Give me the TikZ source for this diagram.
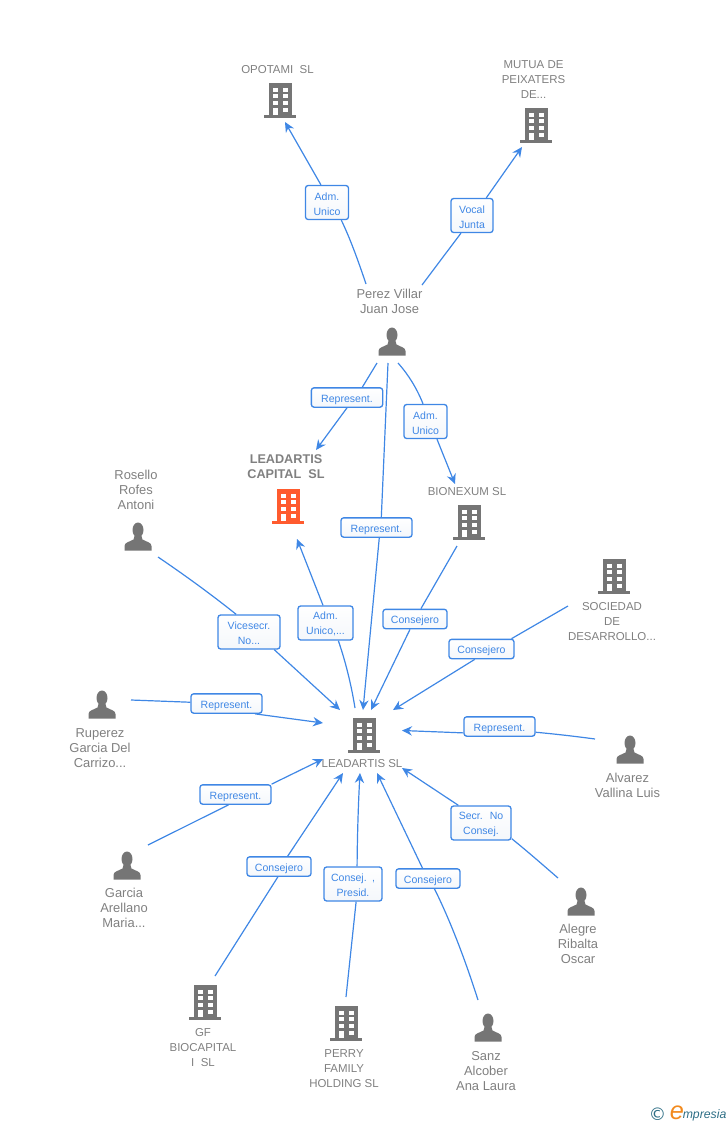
\documentclass[tikz,border=0pt]{standalone}
\usepackage{fontspec}
\setmainfont{Liberation Sans}
\newfontfamily\logofont{DejaVu Sans}
\usetikzlibrary{arrows.meta}
\definecolor{linkblue}{HTML}{3F87E5}
\definecolor{icongray}{HTML}{757575}
\definecolor{textgray}{HTML}{808080}
\definecolor{leadred}{HTML}{FF5B2E}
\definecolor{logoteal}{HTML}{2F6F86}
\definecolor{logoorange}{HTML}{F28A1E}
\definecolor{boxshade}{HTML}{F4F7FB}
\tikzset{
  x=0.75pt,y=-0.75pt,
  conn/.style={draw=linkblue,line width=0.9pt},
  arr/.style={conn,-{Stealth[length=7.5pt,width=7pt,inset=2.5pt]}},
  lab/.style={draw=linkblue,line width=1pt,rounded corners=2pt,top color=white,bottom color=boxshade,
    text=linkblue,font=\fontsize{7.9pt}{11.25pt}\selectfont,align=center,inner sep=0pt,text width=#1,
    minimum height=25.5pt,execute at begin node={\rule{0pt}{7.7pt}}},
  labone/.style={lab=#1,minimum height=14.5pt,execute at begin node={\rule{0pt}{8.5pt}}},
  ent/.style={text=textgray,font=\fontsize{8.6pt}{11.25pt}\selectfont,align=center,inner sep=0pt},
  pers/.style={ent,font=\fontsize{9.7pt}{11.25pt}\selectfont},
  building/.pic={
    \fill[pic actions] (-11.5,-17) rectangle (11.5,15);
    \fill[pic actions] (-16,15) rectangle (16,18);
    \foreach \yy in {-12.5,-5.7,1} {
      \fill[white] (-7.5,\yy) rectangle (-2.5,\yy+4);
      \fill[white] (2.5,\yy) rectangle (7.5,\yy+4);
    }
    \fill[white] (-7.5,8) rectangle (-2.5,15);
    \fill[white] (2.5,7.7) rectangle (7.5,11.7);
  },
  person/.pic={
    \fill[pic actions] (0,-7) ellipse (5.5 and 7.5);
    \fill[pic actions] (-13.5,13.5) -- (-13.5,9) .. controls (-13.5,5.5) and (-9,5) .. (-4.5,2.5)
      -- (-3.5,-1) -- (3.5,-1) -- (4.5,2.5) .. controls (9,5) and (13.5,5.5) .. (13.5,9)
      -- (13.5,13.5) -- cycle;
  }
}
\begin{document}
\begin{tikzpicture}
\useasboundingbox (0,0) rectangle (728,1125);

% icons
\pic[fill=icongray] (iOpotami) at (280,100) {building};
\pic[fill=icongray] (iMutua) at (536,125) {building};
\pic[fill=icongray] (iBionexum) at (469,522) {building};
\pic[fill=icongray] (iSociedad) at (614,576) {building};
\pic[fill=icongray] (iLeadartis) at (364,735) {building};
\pic[fill=leadred] (iCapital) at (288,506) {building};
\pic[fill=icongray] (iGf) at (205,1002) {building};
\pic[fill=icongray] (iPerry) at (346,1023) {building};
\pic[fill=icongray] (iPerez) at (392,342) {person};
\pic[fill=icongray] (iRosello) at (138,537) {person};
\pic[fill=icongray] (iRuperez) at (102,705) {person};
\pic[fill=icongray] (iAlvarez) at (630,750) {person};
\pic[fill=icongray] (iGarcia) at (127,866) {person};
\pic[fill=icongray] (iAlegre) at (581,902) {person};
\pic[fill=icongray] (iSanz) at (488,1028) {person};

% entity labels
\node[ent] (tOpotami) at (277.5,70) {OPOTAMI\ \ SL};
\node[ent] (tMutua) at (533.5,79.5) {MUTUA DE\\PEIXATERS\\DE...};
\node[pers] (tPerez) at (389.5,301) {Perez Villar\\Juan Jose};
\node[ent,font=\fontsize{9.5pt}{11.25pt}\selectfont\bfseries] (tCapital) at (286,467) {LEADARTIS\\CAPITAL\ \ SL};
\node[ent] (tBionexum) at (467,492) {BIONEXUM SL};
\node[pers] (tRosello) at (136,490) {Rosello\\Rofes\\Antoni};
\node[ent] (tSociedad) at (612,621.5) {SOCIEDAD\\DE\\DESARROLLO...};
\node[pers] (tRuperez) at (100,748) {Ruperez\\Garcia Del\\Carrizo...};
\node[ent] (tLeadartis) at (362,764) {LEADARTIS SL};
\node[pers] (tAlvarez) at (627.5,785) {Alvarez\\Vallina Luis};
\node[pers] (tGarcia) at (124,908) {Garcia\\Arellano\\Maria...};
\node[pers] (tAlegre) at (578,944) {Alegre\\Ribalta\\Oscar};
\node[ent] (tGf) at (203,1048) {GF\\BIOCAPITAL\\I\ \ SL};
\node[ent] (tPerry) at (344,1069) {PERRY\\FAMILY\\HOLDING SL};
\node[pers] (tSanz) at (486,1071) {Sanz\\Alcober\\Ana Laura};

% connector ends
\coordinate (s1) at (366,284);   \coordinate (e1) at (285,122);
\coordinate (s2) at (422,285);   \coordinate (e2) at (522,147);
\coordinate (s3) at (377,363);   \coordinate (e3) at (316,450);
\coordinate (s4) at (388,363);   \coordinate (e4) at (363,710);
\coordinate (s5) at (398,363);   \coordinate (e5) at (455,484);
\coordinate (s6) at (457,546);   \coordinate (e6) at (371,710);
\coordinate (s7) at (568,606);   \coordinate (e7) at (393,710);
\coordinate (s8) at (595,739);   \coordinate (e8) at (402,730.5);
\coordinate (s9) at (558,878);   \coordinate (e9) at (402,768);
\coordinate (s10) at (478,1000); \coordinate (e10) at (377,773);
\coordinate (s11) at (346,997);  \coordinate (e11) at (360,773);
\coordinate (s12) at (215,976);  \coordinate (e12) at (343,773);
\coordinate (s13) at (148,845);  \coordinate (e13) at (323,759);
\coordinate (s14) at (131,700);  \coordinate (e14) at (323,723);
\coordinate (s15) at (158,557);  \coordinate (e15) at (340,710);
\coordinate (s16) at (355,708);  \coordinate (e16) at (297,539);

% connector labels
\node[lab=32.25pt] (l1) at (327,202.5) {Adm.\\Unico};
\node[lab=31.5pt] (l2) at (472,215.5) {Vocal\\Junta};
\node[labone=53.5pt] (l3) at (347,397.5) {Represent.};
\node[labone=53.25pt] (l4) at (376.5,527.5) {Represent.};
\node[lab=32.25pt] (l5) at (425.5,421.5) {Adm.\\Unico};
\node[labone=48pt] (l6) at (415,619) {Consejero};
\node[labone=48.75pt] (l7) at (481.5,649) {Consejero};
\node[labone=53.25pt] (l8) at (499.5,726.5) {Represent.};
\node[lab=45pt] (l9) at (481,823) {Secr.\ \ No\\Consej.};
\node[labone=48pt] (l10) at (428,878.5) {Consejero};
\node[lab=43.5pt] (l11) at (353,884) {Consej. ,\\Presid.};
\node[labone=48pt] (l12) at (279,866.5) {Consejero};
\node[labone=53.25pt] (l13) at (235.5,794.5) {Represent.};
\node[labone=53.25pt] (l14) at (226.5,703.5) {Represent.};
\node[lab=46.5pt] (l15) at (249,632) {Vicesecr.\\No...};
\node[lab=41.25pt] (l16) at (325.5,623) {Adm.\\Unico,...};

% connectors
\draw[conn] (s1) .. controls (357.3,258) and (349.3,236.7) .. (l1.-51);
\draw[arr] (l1.109) -- (e1);
\draw[conn] (s2) -- (l2.-122);
\draw[arr] (l2.51) -- (e2);
\draw[conn] (s3) -- (l3.34);
\draw[arr] (l3.-90) -- (e3);
\draw[conn] (s4) -- (l4.65);
\draw[arr] (l4.-75) -- (e4);
\draw[conn] (s5) .. controls (408.7,375) and (417,388.7) .. (l5.98);
\draw[arr] (l5.-57) -- (e5);
\draw[conn] (s6) -- (l6);
\draw[arr] (l6) -- (e6);
\draw[conn] (s7) -- (l7.19);
\draw[arr] (l7.-123) -- (e7);
\draw[conn] (s8) .. controls (575,736.3) and (555,734) .. (l8.-9);
\draw[arr] (l8.-170) -- (e8);
\draw[conn] (s9) .. controls (543,865) and (527,851) .. (l9.-27);
\draw[arr] (l9.142) -- (e9);
\draw[conn] (s10) .. controls (463,953) and (448,916) .. (l10.-58);
\draw[arr] (l10.118) -- (e10);
\draw[conn] (s11) -- (l11.-80);
\draw[arr] (l11.77) .. controls (357.3,836) and (358.3,804) .. (e11);
\draw[conn] (s12) -- (l12.-96);
\draw[arr] (l12.50) -- (e12);
\draw[conn] (s13) -- (l13.-124);
\draw[arr] (l13.16) -- (e13);
\draw[conn] (s14) -- (l14.178);
\draw[arr] (l14.-20) -- (e14);
\draw[conn] (s15) .. controls (186,576) and (212,595) .. (l15.126);
\draw[arr] (l15.-35) -- (e15);
\draw[conn] (s16) .. controls (351,683) and (345,660) .. (l16.-54);
\draw[arr] (l16.98) -- (e16);

% logo
\node[inner sep=0pt,text=logoteal,font=\logofont\fontsize{13pt}{13pt}\selectfont] (logoC) at (657.5,1114) {©};
\node[inner sep=0pt,anchor=base west,text=logoorange,font=\fontsize{19pt}{19pt}\selectfont\itshape] (logoE) at (669.5,1119.5) {e};
\node[inner sep=0pt,anchor=base west,text=logoteal,font=\fontsize{9.2pt}{11pt}\selectfont\itshape] (logoT) at (682.5,1118) {mpresia};
\end{tikzpicture}
\end{document}
